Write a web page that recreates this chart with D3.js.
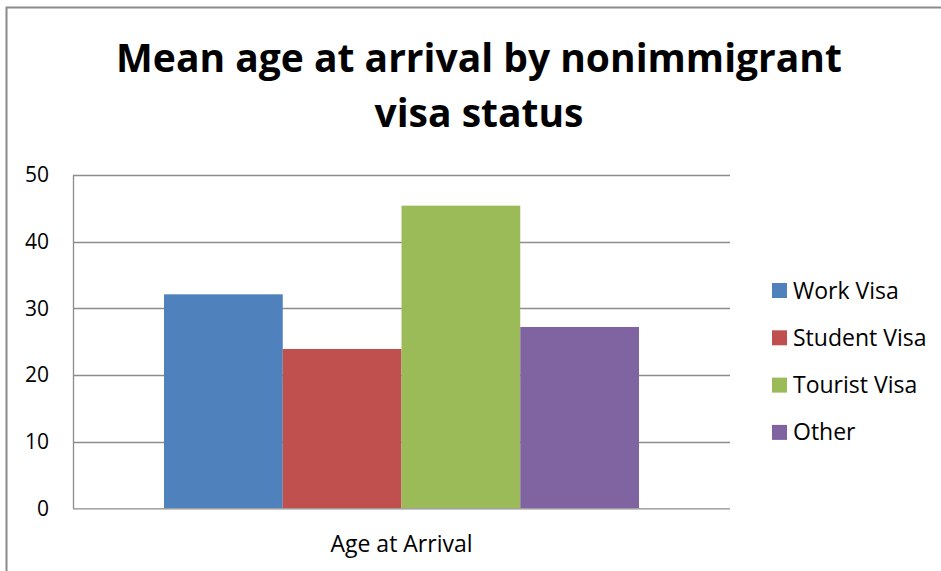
<!DOCTYPE html>
<html>
<head>
<meta charset="utf-8">
<script src="https://cdn.jsdelivr.net/npm/d3@7"></script>
<style>
html,body{margin:0;padding:0;background:#fff;}
svg{display:block;}
text{font-family:"Open Sans", Lato, sans-serif;}
</style>
</head>
<body>
<svg id="chart" width="941" height="571"></svg>
<script>
const titleLines = ["Mean age at arrival by nonimmigrant", "visa status"];
const categories = ["Age at Arrival"];
const seriesNames = ["Work Visa", "Student Visa", "Tourist Visa", "Other"];
const seriesValues = [32.1, 23.9, 45.4, 27.2];
const seriesColors = ["#4F81BD", "#C0504D", "#9BBB59", "#8064A2"];
const yTicks = [0, 10, 20, 30, 40, 50];

const FONT = "\"Open Sans\", Lato, sans-serif";
const svg = d3.select("#chart");
const W = 941, H = 571;

// outer frame
svg.append("rect").attr("x", 6.5).attr("y", 7.5).attr("width", W + 10).attr("height", H + 10)
  .attr("fill", "#fff").attr("stroke", "#8a8a8a").attr("stroke-width", 2);

const plot = {left: 73, right: 730, top: 175, bottom: 508.3};

const y = d3.scaleLinear().domain([0, 50]).range([plot.bottom, plot.top]);
const x0 = d3.scaleBand().domain(categories).range([plot.left, plot.right]).paddingInner(0).paddingOuter(0.1916);
const x1 = d3.scaleBand().domain(seriesNames).range([0, x0.bandwidth()]).padding(0);

// title
svg.append("g").selectAll("text").data(titleLines).join("text")
  .attr("x", 479).attr("y", (d, i) => 72 + i * 55)
  .attr("text-anchor", "middle")
  .attr("font-weight", "bold").attr("font-size", 39).attr("fill", "#000")
  .text(d => d);

// gridlines
svg.append("g").selectAll("line").data(yTicks.filter(t => t > 0)).join("line")
  .attr("x1", plot.left).attr("x2", plot.right)
  .attr("y1", d => Math.round(y(d)) + 0.5).attr("y2", d => Math.round(y(d)) + 0.5)
  .attr("stroke", "#8c8c8c").attr("stroke-width", 1.3);

// bars
const g = svg.append("g");
categories.forEach(cat => {
  g.selectAll("rect.bar").data(seriesValues).join("rect")
    .attr("class", "bar")
    .attr("x", (d, i) => x0(cat) + x1(seriesNames[i]))
    .attr("width", x1.bandwidth())
    .attr("y", d => y(d))
    .attr("height", d => y(0) - y(d))
    .attr("fill", (d, i) => seriesColors[i]);
});

// y axis
const yAxis = svg.append("g").attr("transform", `translate(${plot.left},0)`)
  .call(d3.axisLeft(y).tickValues(yTicks).tickSize(0).tickPadding(24));
yAxis.select(".domain").attr("stroke", "#8c8c8c").attr("stroke-width", 1.3);
yAxis.selectAll("text").attr("font-size", 21).attr("fill", "#000").attr("font-family", FONT);

// x axis
const xAxis = svg.append("g").attr("transform", `translate(0,${plot.bottom})`)
  .call(d3.axisBottom(x0).tickSize(0).tickPadding(27).tickSizeOuter(0));
xAxis.select(".domain").attr("d", `M${plot.left},0.5H${plot.right}`).attr("stroke", "#8c8c8c").attr("stroke-width", 1.3);
xAxis.selectAll(".tick").attr("transform", `translate(${(plot.left + plot.right) / 2},0)`);
xAxis.selectAll("text").attr("font-size", 23).attr("fill", "#000").attr("font-family", FONT);

// legend
const legend = svg.append("g").selectAll("g").data(seriesNames).join("g")
  .attr("transform", (d, i) => `translate(772,${283 + i * 47.3})`);
legend.append("rect").attr("width", 15).attr("height", 15).attr("fill", (d, i) => seriesColors[i]);
legend.append("text").attr("x", 21).attr("y", 15.5).attr("font-size", 23).attr("fill", "#000").text(d => d);
</script>
</body>
</html>
